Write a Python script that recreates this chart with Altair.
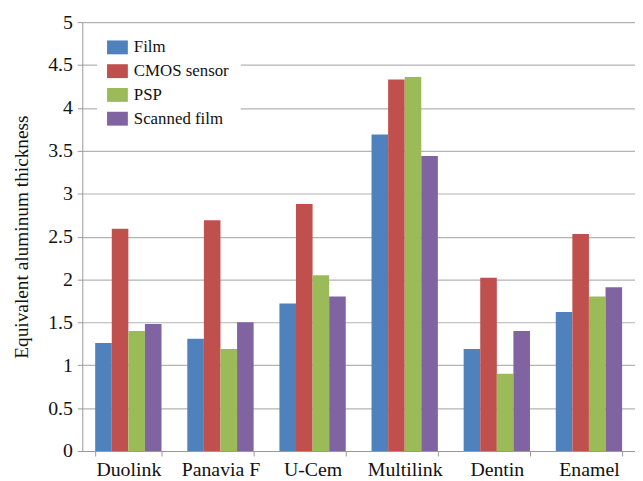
import altair as alt
import pandas as pd

categories = ["Duolink", "Panavia F", "U-Cem", "Multilink", "Dentin", "Enamel"]
series = ["Film", "CMOS sensor", "PSP", "Scanned film"]
film = [1.26, 1.31, 1.72, 3.69, 1.19, 1.62]
cmos = [2.59, 2.69, 2.88, 4.33, 2.02, 2.53]
psp = [1.40, 1.19, 2.05, 4.36, 0.90, 1.80]
scanned = [1.48, 1.50, 1.80, 3.44, 1.40, 1.91]
colors = ["#4F81BD", "#C0504D", "#9BBB59", "#8064A2"]
y_ticks = [0, 0.5, 1, 1.5, 2, 2.5, 3, 3.5, 4, 4.5, 5]

rows = []
for s, vals in zip(series, [film, cmos, psp, scanned]):
    for c, v in zip(categories, vals):
        rows.append({"Material": c, "Method": s, "Value": v})
df = pd.DataFrame(rows)

FONT = "Liberation Serif"

chart = alt.Chart(df).mark_bar().encode(
    x=alt.X("Material:N", sort=categories, title=None,
            scale=alt.Scale(paddingInner=0.28, paddingOuter=0.14),
            axis=alt.Axis(labelAngle=0, labelFontSize=20, labelFont=FONT,
                          labelColor="#111", tickBand="extent", tickSize=5,
                          tickColor="#999", domainColor="#999", labelPadding=4,
                          grid=False)),
    xOffset=alt.XOffset("Method:N", sort=series, scale=alt.Scale(paddingInner=0, paddingOuter=0)),
    y=alt.Y("Value:Q", title="Equivalent aluminum thickness",
            scale=alt.Scale(domain=[0, 5], nice=False),
            axis=alt.Axis(values=y_ticks, format="~g", labelFontSize=20, labelFont=FONT,
                          labelColor="#111", titleFontSize=19.5, titleFont=FONT,
                          titleFontWeight="normal", titleColor="#111",
                          tickSize=5, tickColor="#999", domainColor="#999",
                          gridColor="#b3b3b3", gridWidth=1.2, labelPadding=5,
                          titlePadding=16)),
    color=alt.Color("Method:N", sort=series,
                    scale=alt.Scale(domain=series, range=colors),
                    legend=alt.Legend(title=None, orient="none", legendX=15, legendY=5,
                                      fillColor="white", padding=12,
                                      symbolType="M-1.5,-1H1.5V1H-1.5Z",
                                      symbolSize=196, symbolStrokeWidth=0,
                                      labelFont=FONT,
                                      labelFontSize=17, labelFontWeight="normal",
                                      labelColor="#111", rowPadding=6,
                                      labelOffset=8)),
).properties(
    width=558, height=433,
    padding={"left": 75, "top": 12, "right": 0, "bottom": 28},
    autosize=alt.AutoSizeParams(type="none"),
).configure_view(stroke=None)

chart.save("out.html", embed_options={"renderer": "svg", "actions": False})
